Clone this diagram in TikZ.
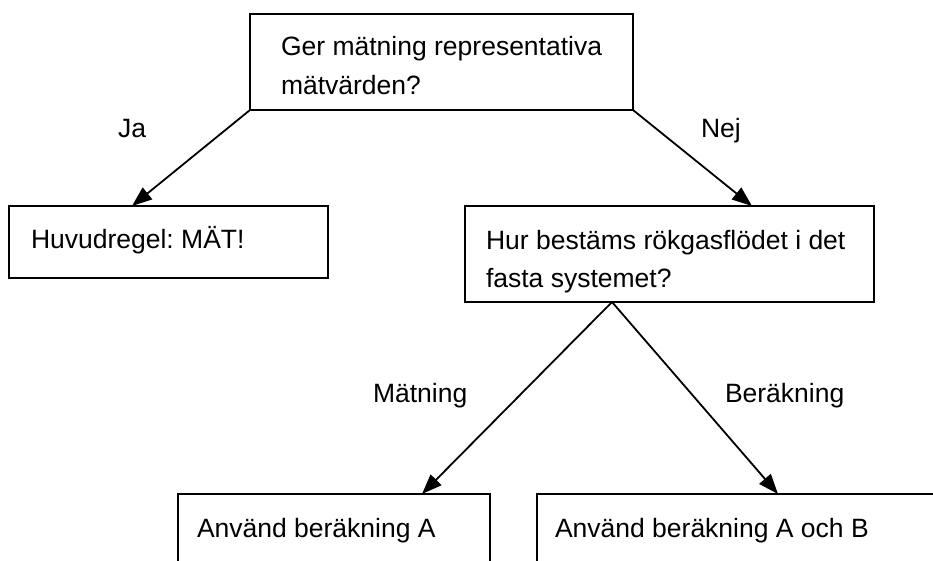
\documentclass[tikz,border=0pt]{standalone}
\usepackage{fontspec}
\setmainfont{Liberation Sans}
\usetikzlibrary{arrows.meta,calc}
\frenchspacing
\begin{document}
\begin{tikzpicture}[x=1pt,y=-1pt,
  box/.style={draw,line width=1.8pt,inner sep=0pt,outer sep=0pt},
  txt/.style={anchor=base west,inner sep=0pt,outer sep=0pt,font=\fontsize{26.5}{38}\selectfont\frenchspacing},
  arr/.style={line width=1.8pt,-{Triangle[length=20pt,width=15pt]}}]
\useasboundingbox (0,0) rectangle (933,561);
\node[box,minimum width=383pt,minimum height=96pt] (q1) at (441.5,62) {};
\node[box,minimum width=319pt,minimum height=72pt] (h) at (168.5,242) {};
\node[box,minimum width=409pt,minimum height=96pt] (q2) at (669.5,254) {};
\node[box,minimum width=312pt,minimum height=146pt] (a) at (334,567) {};
\node[box,minimum width=423pt,minimum height=146pt] (ab) at (748.5,567) {};
\node[txt] (t1) at (281,56) {Ger mätning representativa};
\node[txt] (t1b) at (281,95) {mätvärden?};
\node[txt] (th) at (31,248) {Huvudregel: MÄT!};
\node[txt] (t2) at (486,249) {Hur bestäms rökgasflödet i det};
\node[txt] (t2b) at (486,287) {fasta systemet?};
\node[txt] (ta) at (197,537) {Använd beräkning A};
\node[txt] (tab) at (555,537) {Använd beräkning A och B};
\node[txt] (ja) at (118,138) {Ja};
\node[txt] (nej) at (701,138) {Nej};
\node[txt] (mat) at (373,402) {Mätning};
\node[txt] (ber) at (725,402) {Beräkning};
\draw[arr] (q1.south west) -- ($(h.north west)+(123,0)$);
\draw[arr] (q1.south east) -- ($(q2.north west)+(287,0)$);
\coordinate (apex) at ($(q2.south west)+(147,0)$);
\draw[arr] (apex) -- ($(a.north west)+(244,0)$);
\draw[arr] (apex) -- ($(ab.north west)+(241,0)$);
\end{tikzpicture}
\end{document}
